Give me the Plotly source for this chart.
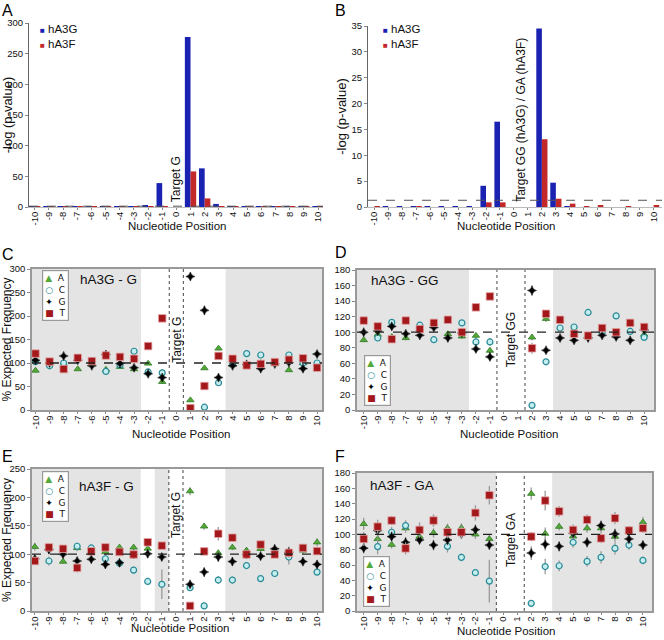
import plotly.graph_objects as go

W, H = 664, 640
FONT = "Liberation Sans, Arial, Helvetica, sans-serif"

positions = list(range(-10, 11))
tick_text = [str(p) for p in positions]

# ---------------- Panel A : -log(p-value), target G ----------------
A_hA3G = [0.3, 0.3, 0.3, 0.3, 0.3, 0.3, 0.3, 0.3, 2.5, 39, 0, 277, 63, 5, 0.5, 0.3, 0.3, 0.3, 0.3, 0.3, 0.3]
A_hA3F = [0.2, 0.2, 0.2, 0.2, 0.2, 0.2, 0.2, 0.2, 1.5, 0.3, 0, 58, 14, 1, 0.8, 0.2, 0.2, 0.2, 0.2, 0.2, 0.2]

# ---------------- Panel B : -log(p-value), target GG / GA ----------------
B_hA3G = [0, 0.05, 0.05, 0.05, 0.05, 0.05, 0.05, 0.05, 4.1, 16.5, 0, 0, 34.5, 4.7, 0.05, 0, 0, 0, 0, 0, 0]
B_hA3F = [0.15, 0, 0, 0.05, 0, 0, 0, 0, 0.9, 0.9, 0, 0, 13.1, 1.6, 0.65, 0.05, 0.2, 0, 0.1, 0, 0.35]

# ---------------- Panel C : hA3G - G ----------------
C_A = [84, 99, 97, 87, 99, 86, 92, 87, 99, 60, None, 21, 89, 131, 97, 97, 100, 98, 85, 100, 97]
C_C = [103, 94, 100, 108, 105, 82, 96, 125, 81, 79, None, 1, 6, 58, 100, 120, 117, 101, 117, 100, 100]
C_G = [106, 100, 115, 106, 94, 118, 99, 90, 77, 69, None, 284, 212, 69, 94, 97, 88, 98, 101, 88, 119]
C_T = [120, 103, 87, 111, 104, 116, 113, 109, 136, 195, None, 4, 51, 115, 109, 95, 98, 102, 107, 110, 90]
C_A_err = [3, 3, 3, 3, 3, 3, 4, 3, 3, 4, None, 3, 3, 4, 3, 3, 3, 3, 3, 3, 3]
C_C_err = [3, 3, 4, 3, 3, 4, 3, 4, 4, 8, None, 1, 2, 4, 3, 4, 4, 3, 4, 3, 3]
C_G_err = [4, 3, 4, 3, 3, 3, 3, 3, 4, 5, None, 6, 10, 4, 3, 3, 3, 3, 3, 3, 4]
C_T_err = [3, 3, 3, 3, 3, 3, 3, 3, 3, 4, None, 1, 3, 4, 3, 3, 3, 3, 3, 3, 3]

# ---------------- Panel D : hA3G - GG ----------------
D_A = [90, 97, 94, 92.6, 104, 112, 97.7, 94.7, 95.6, 76.4, None, None, 93.4, 117.3, 116, 98, 95.6, 105.4, 100, 112, 97]
D_C = [115, 92.6, 112.6, 115, 109, 90.4, 116, 112, 87.5, 87.5, None, None, 6, 62, 105.4, 106.7, 125.4, 100, 121, 101, 93.4]
D_G = [100, 101.5, 107.5, 98, 96, 106, 92.6, 99, 78.5, 68.3, None, None, 153.6, 76.8, 92.6, 89.6, 92.6, 96, 94, 89.6, 103]
D_T = [115, 107.5, 91, 115, 104, 112, 116, 100, 132, 146, None, None, 79.4, 123.7, 116, 98, 95.6, 105.4, 100, 112, 106.7]
D_A_err = [3, 3, 3, 3, 3, 3, 3, 3, 3, 4, None, None, 4, 4, 3, 3, 3, 3, 3, 3, 3]
D_C_err = [3, 3, 4, 3, 3, 3, 3, 3, 4, 5, None, None, 2, 4, 3, 4, 4, 3, 4, 3, 3]
D_G_err = [4, 4, 4, 3, 3, 3, 4, 3, 4, 4, None, None, 7, 3, 3, 4, 3, 3, 3, 3, 3]
D_T_err = [5, 4, 3, 3, 4, 3, 3, 3, 3, 4, None, None, 7, 4, 5, 5, 5, 4, 4, 4, 4]

# ---------------- Panel E : hA3F - G ----------------
E_A = [113, 112, 87, 111, 105, 104, 112, 112, 110, 115, None, 211, 149, 102, 112, 106.6, 109.5, 106.6, 102.5, 106.6, 121]
E_C = [88, 88, 109.5, 114, 111, 92, 84, 72, 52, 47, None, 41, 9, 54.5, 54.5, 80, 57, 66, 95, 111, 68.5]
E_G = [92, 108, 100, 88, 91, 82, 85, 99.5, 100.7, 95, None, 47, 68.5, 95, 87, 99.6, 96.6, 109.5, 103.6, 87, 82]
E_T = [88, 112, 109.5, 76, 105, 112, 104, 99.5, 121, 115, None, 9, 105, 136, 129, 99.6, 117, 99.6, 102.5, 111, 105.4]
E_A_err = [7, 6, 4, 6, 5, 6, 5, 5, 6, 5, None, 7, 6, 6, 5, 5, 5, 6, 6, 6, 7]
E_C_err = [6, 8, 5, 6, 5, 7, 6, 6, 5, 26, None, 6, 3, 7, 6, 6, 6, 6, 13, 6, 5]
E_G_err = [6, 7, 8, 7, 5, 7, 6, 6, 7, 6, None, 6, 8, 8, 7, 6, 6, 7, 10, 7, 7]
E_T_err = [6, 7, 6, 8, 6, 6, 6, 7, 7, 5, None, 3, 7, 12, 7, 6, 7, 6, 6, 7, 7]

# ---------------- Panel F : hA3F - GA ----------------
F_A = [113.6, 94, 86.5, 108, 97, 101.8, 108, 108.3, 100, 94, None, None, 153, 101, 110, 97.4, 108, 108, 97, 105, 115.8]
F_C = [94, 84, 102.7, 111.4, 105.7, 118, 84.3, 70, 50, 39, None, None, 10, 58, 59, 89.6, 64.7, 70, 81.7, 86, 66]
F_G = [82, 105, 97, 89.6, 92.6, 86, 92.6, 100.5, 106, 86, None, None, 75.6, 87, 84.3, 101.4, 89.6, 111.4, 100.5, 94, 86]
F_T = [94, 110, 118, 81.7, 105.7, 118, 102.7, 102.7, 128, 151, None, None, 97, 144, 130, 105.7, 119, 94.8, 121, 105, 108]
F_A_err = [8, 7, 5, 6, 5, 6, 6, 6, 6, 6, None, None, 8, 8, 5, 6, 6, 7, 7, 6, 7]
F_C_err = [7, 10, 7, 7, 6, 7, 8, 5, 4, 28, None, None, 3, 10, 7, 7, 7, 8, 8, 6, 5]
F_G_err = [7, 9, 7, 7, 5, 7, 7, 6, 7, 6, None, None, 9, 8, 7, 7, 7, 7, 7, 7, 6]
F_T_err = [9, 9, 6, 8, 10, 8, 8, 8, 10, 12, None, None, 6, 13, 7, 7, 7, 6, 8, 6, 6]

BLUE = "#1a22b2"
RED = "#c2282a"
SYM = {
    "A": dict(symbol="triangle-up", size=6.5, color="#55a83a", line=dict(color="#2f7a22", width=0.8)),
    "C": dict(symbol="circle", size=6, color="#c4eef0", line=dict(color="#2a8b95", width=1.2)),
    "G": dict(symbol="star-diamond", size=6.5, color="#000000", line=dict(color="#000000", width=0.5)),
    "T": dict(symbol="square", size=7.5, color="#a3181b", line=dict(color="#e4a3a3", width=0.8)),
}


def px2x(p):
    return p / W


def px2y(p):
    return 1 - p / H


# panel geometry (pixels) and ranges
panels = [
    # key, axis suffix, x0, x1, ytop, ybottom, xrange, yrange, dtick
    ("A", "", 29, 323, 23, 207, [-10.4, 10.35], [0, 300], 50),
    ("B", "2", 368, 662, 26, 207, [-10.45, 10.6], [0, 35], 5),
    ("C", "3", 32, 322, 269, 410, [-10.25, 10.35], [0, 300], 50),
    ("D", "4", 357, 654, 270, 410, [-10.48, 10.7], [0, 180], 20),
    ("E", "5", 32, 322, 469, 611, [-10.2, 10.35], [0, 250], 50),
    ("F", "6", 357, 652, 473, 611, [-10.48, 10.65], [0, 180], 20),
]

fig = go.Figure()
layout = dict(
    width=W, height=H, margin=dict(l=0, r=0, t=0, b=0),
    paper_bgcolor="white", plot_bgcolor="rgba(0,0,0,0)",
    font=dict(family=FONT, size=10, color="#111"),
    showlegend=False, barmode="group", bargap=0.2, bargroupgap=0,
)

shapes = []
annotations = []

for key, s, x0, x1, yt, yb, xr, yr, dt in panels:
    framed = key in "CDEF"
    xa = dict(
        domain=[px2x(x0), px2x(x1)], range=xr, anchor="y" + s,
        tickmode="array", tickvals=positions, ticktext=tick_text, tickangle=-90,
        tickfont=dict(size=9.5, family=FONT), ticks="outside", ticklen=2, ticklabelstandoff=-2,
        tickcolor="#888", showgrid=False, zeroline=False,
        showline=True, linecolor="#999" if framed else "#bbb", linewidth=1.5 if framed else 1,
        mirror=framed, automargin=False,
    )
    ya = dict(
        domain=[px2y(yb), px2y(yt)], range=yr, anchor="x" + s, dtick=dt,
        tickfont=dict(size=9.5, family=FONT), ticks="outside", ticklen=3,
        tickcolor="#888", showgrid=False, zeroline=False,
        showline=True, linecolor="#999" if framed else "#666", linewidth=1.5 if framed else 1,
        mirror=framed, automargin=False,
    )
    if key in "AB":
        ya["title"] = dict(text="-log (p-value)", font=dict(size=13, family=FONT), standoff=1)
    elif key in "CE":
        ya["title"] = dict(text="% Expected Frequency", font=dict(size=12, family=FONT), standoff=1)
    layout["xaxis" + s] = xa
    layout["yaxis" + s] = ya

# ----- bars for A and B -----
for s, g, f in [("", A_hA3G, A_hA3F), ("2", B_hA3G, B_hA3F)]:
    fig.add_trace(go.Bar(x=positions, y=g, name="hA3G", marker=dict(color=BLUE, line=dict(width=0)),
                         xaxis="x" + s, yaxis="y" + s, offsetgroup="g"))
    fig.add_trace(go.Bar(x=positions, y=f, name="hA3F", marker=dict(color=RED, line=dict(width=0)),
                         xaxis="x" + s, yaxis="y" + s, offsetgroup="f"))
    # significance threshold
    shapes.append(dict(type="line", xref="x" + s + " domain", yref="y" + s, x0=0, x1=1, y0=1.3, y1=1.3,
                       line=dict(color="#555", width=1, dash="dash")))

# ----- scatter panels -----
scatter_data = {
    "3": [("A", C_A, C_A_err), ("C", C_C, C_C_err), ("G", C_G, C_G_err), ("T", C_T, C_T_err)],
    "4": [("A", D_A, D_A_err), ("C", D_C, D_C_err), ("G", D_G, D_G_err), ("T", D_T, D_T_err)],
    "5": [("A", E_A, E_A_err), ("C", E_C, E_C_err), ("G", E_G, E_G_err), ("T", E_T, E_T_err)],
    "6": [("A", F_A, F_A_err), ("C", F_C, F_C_err), ("G", F_G, F_G_err), ("T", F_T, F_T_err)],
}
for s, series in scatter_data.items():
    for base, vals, err in series:
        fig.add_trace(go.Scatter(
            x=positions, y=vals, mode="markers", name=base,
            marker=SYM[base], xaxis="x" + s, yaxis="y" + s,
            error_y=dict(type="data", array=err, color="#9a9a9a", thickness=1.3, width=0),
        ))

# shaded (non-neighbouring) regions, target lines, 100% line
regions = {
    "3": ([(-10.25, -2.5), (3.5, 10.35)], [-0.5, 0.5]),
    "4": ([(-10.48, -2.5), (3.5, 10.7)], [-0.5, 1.5]),
    "5": ([(-10.2, -2.5), (-1.5, -0.5), (3.5, 10.35)], [-0.5, 0.5]),
    "6": ([(-10.48, -0.5), (3.5, 10.65)], [-0.5, 1.5]),
}
for s, (gray, dots) in regions.items():
    for a, b in gray:
        shapes.append(dict(type="rect", xref="x" + s, yref="y" + s + " domain", x0=a, x1=b, y0=0, y1=1,
                           fillcolor="#e4e4e4", line=dict(width=0), layer="below"))
    for d in dots:
        shapes.append(dict(type="line", xref="x" + s, yref="y" + s + " domain", x0=d, x1=d, y0=0, y1=1,
                           line=dict(color="#444", width=1, dash="dot")))
    shapes.append(dict(type="line", xref="x" + s + " domain", yref="y" + s, x0=0, x1=1, y0=100, y1=100,
                       line=dict(color="#222", width=1.3, dash="dash")))

# x axis titles (placed explicitly)
for xpx, ypx in [(177, 226), (506, 226), (181, 434), (509, 434), (180, 628), (506, 631)]:
    annotations.append(dict(text="Nucleotide Position", xref="paper", yref="paper", x=px2x(xpx), y=px2y(ypx),
                            xanchor="center", yanchor="middle", showarrow=False,
                            font=dict(size=11.5, family=FONT, color="#111")))

# panel letters
for letter, xpx, ypx in [("A", 0, 10), ("B", 333, 10), ("C", 0, 254), ("D", 333, 252), ("E", 0, 456), ("F", 333, 456)]:
    annotations.append(dict(text=letter, xref="paper", yref="paper", x=px2x(xpx), y=px2y(ypx),
                            xanchor="left", yanchor="middle", showarrow=False,
                            font=dict(size=16, family=FONT, color="#000")))

# target labels
targets = [
    ("", 0, 5, "bottom", "Target G"),
    ("2", 0.5, 0.6, "bottom", "Target GG (hA3G) / GA (hA3F)"),
    ("3", 0, 150, "middle", "Target G"),
    ("4", 0.5, 91, "middle", "Target GG"),
    ("5", 0, 169, "middle", "Target G"),
    ("6", 0.5, 93, "middle", "Target GA"),
]
for s, xv, yv, ya_, txt in targets:
    annotations.append(dict(text=txt, xref="x" + s, yref="y" + s, x=xv, y=yv, textangle=-90,
                            xanchor="center", yanchor=ya_, showarrow=False,
                            font=dict(size=12, family=FONT, color="#111")))

# panel titles
for s, fx, fy, txt in [("3", 0.159, 0.929, "hA3G - G"), ("4", 0.039, 0.925, "hA3G - GG"),
                       ("5", 0.155, 0.877, "hA3F - G"), ("6", 0.037, 0.913, "hA3F - GA")]:
    annotations.append(dict(text=txt, xref="x" + s + " domain", yref="y" + s + " domain", x=fx, y=fy,
                            xanchor="left", yanchor="middle", showarrow=False,
                            font=dict(size=13.5, family=FONT, color="#111")))

# legends (A/B)
leg_ab = ("<span style='color:%s;font-size:8px'>■</span> hA3G<br>"
          "<span style='color:%s;font-size:8px'>■</span> hA3F") % (BLUE, RED)
for xpx in (38, 381):
    annotations.append(dict(text=leg_ab, xref="paper", yref="paper", x=px2x(xpx), y=px2y(21),
                            xanchor="left", yanchor="top", align="left", showarrow=False,
                            font=dict(size=11.5, family=FONT, color="#111")))

# legends (C-F)
leg_cf = ("<span style='color:#55a83a'>▲</span>  A<br>"
          "<span style='color:#2a8b95'>○</span>  C<br>"
          "<span style='color:#000'>✦</span>  G<br>"
          "<span style='color:#a3181b'>■</span>  T")
for xpx, ypx, anch in [(42, 270, "top"), (364, 406, "bottom"), (42, 471, "top"), (363, 607, "bottom")]:
    annotations.append(dict(text=leg_cf, xref="paper", yref="paper", x=px2x(xpx), y=px2y(ypx),
                            xanchor="left", yanchor=anch, align="left", showarrow=False,
                            bgcolor="white", bordercolor="#999", borderwidth=1.2, borderpad=2,
                            font=dict(size=9, family="DejaVu Sans, " + FONT, color="#111")))

layout["shapes"] = shapes
layout["annotations"] = annotations
fig.update_layout(**layout)
fig.write_html("out.html", config={"displayModeBar": False},
               post_script="document.body.style.margin='0px';")
